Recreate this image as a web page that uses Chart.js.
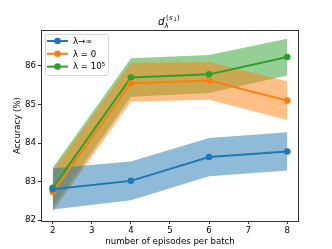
<!DOCTYPE html>
<html>
<head>
<meta charset="utf-8">
<script src="https://cdn.jsdelivr.net/npm/chart.js@4.4.0/dist/chart.umd.min.js"></script>
<style>
  html, body { margin: 0; padding: 0; background: #fff; }
  #wrap { width: 332px; height: 249px; }
</style>
</head>
<body>
<div id="wrap"><canvas id="chart" width="332" height="249"></canvas></div>
<script>
// episodes per batch
const episodes = [2, 4, 6, 8];

// lambda -> infinity
const infMean = [82.80, 83.02, 83.64, 83.78];
const infLow  = [82.28, 82.52, 83.14, 83.29];
const infHigh = [83.35, 83.52, 84.13, 84.28];

// lambda = 0
const zeroMean = [82.73, 85.55, 85.62, 85.10];
const zeroLow  = [82.22, 85.08, 85.12, 84.60];
const zeroHigh = [83.28, 86.08, 86.10, 85.60];

// lambda = 1e5
const bigMean = [82.84, 85.70, 85.78, 86.23];
const bigLow  = [82.32, 85.20, 85.30, 85.75];
const bigHigh = [83.36, 86.20, 86.28, 86.70];

const seriesNames = ["λ→∞", "λ = 0", "λ = 10⁵"];
const colors = ["#1f77b4", "#ff7f0e", "#2ca02c"];
const bandColors = ["rgba(31,119,180,0.5)", "rgba(255,127,14,0.5)", "rgba(44,160,44,0.5)"];

const xTicks = [2, 3, 4, 5, 6, 7, 8];
const yTicks = [82, 83, 84, 85, 86];

const FONT = "DejaVu Sans";
const FS = 8.6;

function pts(ys) {
    return episodes.map((x, i) => ({ x: x, y: ys[i] }));
}

function bandPair(low, high, idx) {
    return [
        { data: pts(low), borderWidth: 0, pointRadius: 0, fill: false, order: 10 },
        { data: pts(high), borderWidth: 0, pointRadius: 0, fill: "-1",
          backgroundColor: bandColors[idx], order: 10 }
    ];
}

function meanLine(ys, idx) {
    return {
        label: seriesNames[idx],
        data: pts(ys),
        borderColor: colors[idx],
        backgroundColor: colors[idx],
        borderWidth: 2,
        pointRadius: 3.3,
        pointHoverRadius: 3.3,
        pointBorderWidth: 0,
        fill: false,
        order: 1
    };
}

// matplotlib style: box, title with math, legend in the corner
const decorations = {
    id: "decorations",
    afterDraw(chart) {
        const ctx = chart.ctx;
        const a = chart.chartArea;
        ctx.save();
        ctx.strokeStyle = "#333";
        ctx.lineWidth = 1;
        ctx.strokeRect(Math.round(a.left) + 0.5, Math.round(a.top) + 0.5,
                       Math.round(a.right - a.left) - 1, Math.round(a.bottom - a.top));

        // title d_lambda^(s1)
        ctx.fillStyle = "#000";
        ctx.textBaseline = "alphabetic";
        ctx.font = "italic 10.5px " + FONT;
        ctx.fillText("d", 158, 25);
        ctx.font = "italic 7px " + FONT;
        ctx.fillText("λ", 164.5, 28);
        ctx.font = "7px " + FONT;
        ctx.fillText("(", 166, 20);
        ctx.font = "italic 7px " + FONT;
        ctx.fillText("s", 169, 20);
        ctx.font = "5px " + FONT;
        ctx.fillText("1", 173.5, 21);
        ctx.font = "7px " + FONT;
        ctx.fillText(")", 177, 20);

        // legend
        const lx = 45, ly = 34, lw = 63, lh = 41;
        ctx.fillStyle = "rgba(255,255,255,0.8)";
        ctx.strokeStyle = "#d6d6d6";
        ctx.lineWidth = 1;
        ctx.beginPath();
        ctx.roundRect(lx + 0.5, ly + 0.5, lw, lh, 2);
        ctx.fill();
        ctx.stroke();
        seriesNames.forEach((name, i) => {
            const yy = ly + 7 + i * 12.8;
            ctx.strokeStyle = colors[i];
            ctx.fillStyle = colors[i];
            ctx.lineWidth = 2;
            ctx.beginPath();
            ctx.moveTo(lx + 2, yy);
            ctx.lineTo(lx + 23, yy);
            ctx.stroke();
            ctx.beginPath();
            ctx.arc(lx + 12.5, yy, 3.3, 0, Math.PI * 2);
            ctx.fill();
            ctx.fillStyle = "#000";
            ctx.font = FS + "px " + FONT;
            ctx.textBaseline = "middle";
            ctx.fillText(name, lx + 28, yy + 0.5);
        });
        ctx.restore();
    }
};

new Chart(document.getElementById("chart"), {
    type: "line",
    data: {
        datasets: [
            ...bandPair(infLow, infHigh, 0),
            ...bandPair(zeroLow, zeroHigh, 1),
            ...bandPair(bigLow, bigHigh, 2),
            meanLine(infMean, 0),
            meanLine(zeroMean, 1),
            meanLine(bigMean, 2)
        ]
    },
    options: {
        responsive: false,
        animation: false,
        layout: { padding: { top: 30, right: 33, left: 0, bottom: 0 } },
        plugins: {
            legend: { display: false },
            tooltip: { enabled: false },
            title: { display: false }
        },
        scales: {
            x: {
                type: "linear",
                min: 1.7,
                max: 8.3,
                afterBuildTicks: s => { s.ticks = xTicks.map(v => ({ value: v })); },
                afterFit: s => { s.height = 28; },
                grid: { drawOnChartArea: false, drawTicks: true, tickLength: 3, color: "#333" },
                border: { display: false },
                ticks: { color: "#000", font: { family: FONT, size: FS }, padding: 2, maxRotation: 0 },
                title: { display: true, text: "number of episodes per batch", color: "#000",
                         font: { family: FONT, size: FS }, padding: { top: 2, bottom: 2 } }
            },
            y: {
                min: 81.98,
                max: 86.93,
                afterBuildTicks: s => { s.ticks = yTicks.map(v => ({ value: v })); },
                afterFit: s => { s.width = 41; },
                grid: { drawOnChartArea: false, drawTicks: true, tickLength: 3, color: "#333" },
                border: { display: false },
                ticks: { color: "#000", font: { family: FONT, size: FS }, padding: 2 },
                title: { display: true, text: "Accuracy (%)", color: "#000",
                         font: { family: FONT, size: FS }, padding: { top: 13, bottom: 2 } }
            }
        }
    },
    plugins: [decorations]
});
</script>
</body>
</html>
